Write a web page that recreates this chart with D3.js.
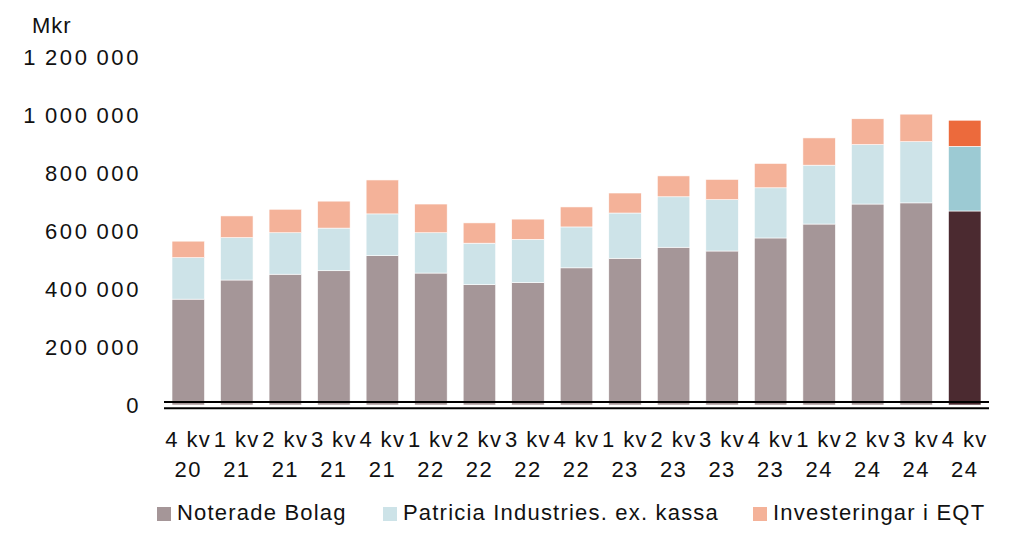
<!DOCTYPE html>
<html>
<head>
<meta charset="utf-8">
<script src="https://cdn.jsdelivr.net/npm/d3@7"></script>
<style>
  body { margin: 0; background: #fff; }
  text { font-family: "Liberation Sans", Arial, sans-serif; fill: #111; }
</style>
</head>
<body>
<div id="chart"></div>
<script>
var svgWidth = 1024;
var svgHeight = 542;

// Data (Mkr)
var quarters = ["4 kv 20", "1 kv 21", "2 kv 21", "3 kv 21", "4 kv 21", "1 kv 22", "2 kv 22", "3 kv 22", "4 kv 22",
  "1 kv 23", "2 kv 23", "3 kv 23", "4 kv 23", "1 kv 24", "2 kv 24", "3 kv 24", "4 kv 24"];
var noterade = [365000, 431000, 451000, 463000, 515000, 455000, 415000, 422000, 473000,
  506000, 544000, 531000, 576000, 624000, 693000, 697000, 669000];
var patricia = [143000, 146000, 143000, 147000, 144000, 139000, 143000, 149000, 141000,
  156000, 174000, 177000, 173000, 203000, 205000, 211000, 223000];
var eqt = [57000, 75000, 81000, 93000, 117000, 99000, 70000, 70000, 69000,
  69000, 72000, 70000, 84000, 94000, 89000, 95000, 90000];
var yTicks = [0, 200000, 400000, 600000, 800000, 1000000, 1200000];
var seriesNames = ["Noterade Bolag", "Patricia Industries. ex. kassa", "Investeringar i EQT"];

var colors = ["#a59698", "#cde3e8", "#f4b299"];
var lastColors = ["#4b2a30", "#9ccad3", "#ec6a3c"];

var svg = d3.select("#chart")
  .append("svg")
  .attr("width", svgWidth)
  .attr("height", svgHeight);

// Build table for stack
var table = quarters.map(function(q, i) {
  return { q: q, n: noterade[i], p: patricia[i], e: eqt[i] };
});
var stack = d3.stack().keys(["n", "p", "e"]);
var layers = stack(table);

// Scales
var xScale = d3.scaleBand()
  .domain(quarters)
  .range([164, 989])
  .paddingInner(0.33)
  .paddingOuter(0.165);

var yScale = d3.scaleLinear()
  .domain([0, 1200000])
  .range([405, 57]);

// Bars
var lastQ = quarters[quarters.length - 1];
svg.append("g").selectAll("g")
  .data(layers)
  .enter()
  .append("g")
  .each(function(layer, li) {
    d3.select(this).selectAll("rect")
      .data(layer)
      .enter()
      .append("rect")
      .attr("x", d => xScale(d.data.q))
      .attr("width", xScale.bandwidth())
      .attr("y", d => yScale(d[1]))
      .attr("height", d => yScale(d[0]) - yScale(d[1]))
      .attr("fill", d => d.data.q === lastQ ? lastColors[li] : colors[li])
      .attr("stroke", "#fff")
      .attr("stroke-width", 0.6);
  });

// Double baseline
[-3, 3.3].forEach(function(off) {
  svg.append("line")
    .attr("x1", 164)
    .attr("x2", 989)
    .attr("y1", yScale(0) + off)
    .attr("y2", yScale(0) + off)
    .attr("stroke", "#000")
    .attr("stroke-width", 1.9);
});

// Y axis (labels only), thin space as thousands separator
var leftAxis = d3.axisLeft(yScale)
  .tickValues(yTicks)
  .tickSize(0)
  .tickPadding(0)
  .tickFormat(d => d3.format(",")(d).replace(/,/g, "\u2009"));

var yAxisG = svg.append("g")
  .attr("transform", "translate(141, 0)")
  .call(leftAxis);
yAxisG.select(".domain").remove();
yAxisG.selectAll("text")
  .attr("font-family", "Liberation Sans, Arial, sans-serif")
  .attr("font-size", 22)
  .attr("letter-spacing", "2.6px")
  .attr("fill", "#111");

svg.append("text")
  .attr("x", 32)
  .attr("y", 33)
  .attr("font-size", 22)
  .attr("letter-spacing", "1px")
  .text("Mkr");

// X axis labels, two lines
var bottomAxis = d3.axisBottom(xScale).tickSize(0).tickFormat("");
var xAxisG = svg.append("g")
  .call(bottomAxis);
xAxisG.select(".domain").remove();
xAxisG.selectAll(".tick").each(function(q) {
  var parts = q.split(" ");
  var t = d3.select(this).select("text")
    .attr("y", 0)
    .attr("dy", null)
    .attr("font-family", "Liberation Sans, Arial, sans-serif")
    .attr("font-size", 22)
    .attr("letter-spacing", "1.4px")
    .attr("fill", "#111");
  t.append("tspan").attr("x", 0).attr("y", 447).text(parts[0] + " " + parts[1]);
  t.append("tspan").attr("x", 0).attr("y", 477).text(parts[2]);
});

// Legend
var legendX = [157, 383, 753];
var legend = svg.append("g");
seriesNames.forEach(function(name, i) {
  legend.append("rect")
    .attr("x", legendX[i])
    .attr("y", 507)
    .attr("width", 14)
    .attr("height", 14)
    .attr("fill", colors[i]);
  legend.append("text")
    .attr("x", legendX[i] + 20)
    .attr("y", 520)
    .attr("font-size", 22)
    .attr("letter-spacing", "1.2px")
    .text(name);
});
</script>
</body>
</html>
